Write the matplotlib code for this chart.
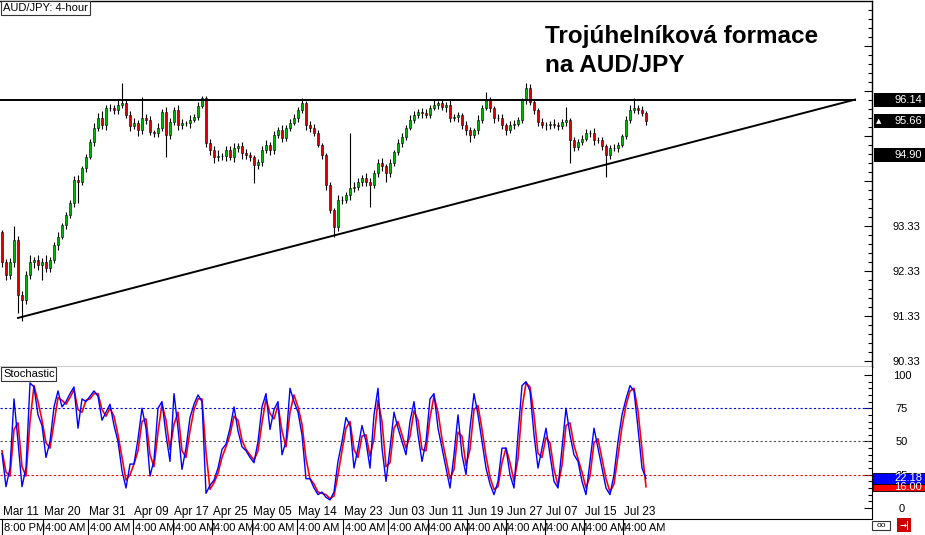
import numpy as np
import matplotlib
matplotlib.use("Agg")
import matplotlib.pyplot as plt
import matplotlib.transforms as mtransforms
from matplotlib.patches import Rectangle
from matplotlib.lines import Line2D

plt.rcParams['font.family'] = ['Liberation Sans', 'DejaVu Sans']

# AUD/JPY 4-hour closes (open = previous close)
first_open = 93.20
closes = [92.53, 92.24, 92.53, 93.02, 91.80, 91.69, 92.24, 92.53, 92.57, 92.46,
          92.53, 92.40, 92.57, 92.91, 93.09, 93.35, 93.57, 93.84, 94.35, 94.31,
          94.62, 94.86, 95.20, 95.51, 95.73, 95.57, 95.95, 95.95, 95.91, 96.02,
          96.06, 95.80, 95.55, 95.62, 95.46, 95.73, 95.69, 95.42, 95.40, 95.51,
          95.86, 95.35, 95.64, 95.91, 95.57, 95.62, 95.62, 95.69, 95.75, 96.00,
          96.17, 95.17, 95.02, 94.86, 94.89, 94.89, 95.02, 94.86, 95.06, 95.11,
          94.95, 94.91, 94.86, 94.69, 94.75, 95.02, 95.13, 95.02, 95.35, 95.46,
          95.29, 95.51, 95.62, 95.73, 95.91, 96.06, 95.57, 95.51, 95.40, 95.13,
          94.91, 94.24, 93.69, 93.31, 93.91, 93.91, 94.02, 94.17, 94.20, 94.31,
          94.40, 94.31, 94.24, 94.51, 94.73, 94.66, 94.51, 94.73, 94.97, 95.17,
          95.31, 95.51, 95.69, 95.80, 95.86, 95.84, 95.80, 95.95, 96.02, 96.06,
          95.97, 96.02, 95.73, 95.75, 95.80, 95.57, 95.46, 95.35, 95.46, 95.69,
          95.95, 96.13, 95.95, 95.73, 95.73, 95.57, 95.46, 95.57, 95.60, 95.69,
          96.13, 96.40, 96.08, 95.91, 95.64, 95.57, 95.57, 95.60, 95.57, 95.55,
          95.64, 95.69, 95.24, 95.09, 95.20, 95.26, 95.40, 95.40, 95.24, 95.24,
          95.11, 94.91, 95.06, 95.06, 95.13, 95.33, 95.69, 95.91, 95.95, 95.91,
          95.84, 95.66]

# wick lengths above / below the body
upper_wick = [0.05, 0.06, 0.10, 0.31, 0.10, 0.08, 0.10, 0.15, 0.08, 0.12,
              0.10, 0.15, 0.08, 0.06, 0.10, 0.05, 0.08, 0.06, 0.10, 0.12,
              0.05, 0.08, 0.06, 0.10, 0.12, 0.15, 0.06, 0.10, 0.08, 0.12,
              0.45, 0.10, 0.08, 0.12, 0.06, 0.47, 0.10, 0.08, 0.05, 0.10,
              0.08, 0.12, 0.10, 0.06, 0.10, 0.08, 0.05, 0.10, 0.06, 0.08,
              0.06, 0.04, 0.10, 0.08, 0.12, 0.06, 0.10, 0.08, 0.12, 0.06,
              0.08, 0.10, 0.06, 0.05, 0.08, 0.10, 0.12, 0.06, 0.10, 0.08,
              0.12, 0.06, 0.08, 0.10, 0.06, 0.11, 0.05, 0.10, 0.08, 0.06,
              0.05, 0.04, 0.06, 0.05, 0.10, 0.08, 0.06, 1.23, 0.10, 0.08,
              0.06, 0.10, 0.08, 0.06, 0.10, 0.12, 0.05, 0.08, 0.06, 0.10,
              0.08, 0.06, 0.10, 0.08, 0.06, 0.10, 0.08, 0.06, 0.10, 0.05,
              0.08, 0.06, 0.10, 0.08, 0.06, 0.05, 0.10, 0.08, 0.06, 0.10,
              0.08, 0.18, 0.06, 0.05, 0.10, 0.08, 0.06, 0.10, 0.08, 0.06,
              0.05, 0.11, 0.08, 0.06, 0.05, 0.10, 0.08, 0.06, 0.10, 0.08,
              0.06, 0.28, 0.05, 0.08, 0.06, 0.10, 0.08, 0.06, 0.10, 0.08,
              0.06, 0.05, 0.08, 0.10, 0.06, 0.05, 0.08, 0.10, 0.22, 0.06,
              0.08, 0.05]
lower_wick = [0.10, 0.11, 0.08, 0.10, 0.40, 0.47, 0.10, 0.08, 0.12, 0.10,
              0.33, 0.10, 0.08, 0.06, 0.10, 0.05, 0.08, 0.06, 0.08, 0.47,
              0.06, 0.08, 0.05, 0.10, 0.06, 0.08, 0.10, 0.06, 0.08, 0.10,
              0.06, 0.08, 0.10, 0.06, 0.12, 0.08, 0.10, 0.06, 0.08, 0.10,
              0.06, 0.49, 0.08, 0.06, 0.10, 0.08, 0.06, 0.10, 0.05, 0.06,
              0.05, 0.08, 0.10, 0.12, 0.08, 0.10, 0.12, 0.06, 0.10, 0.08,
              0.12, 0.10, 0.08, 0.40, 0.10, 0.08, 0.06, 0.10, 0.08, 0.06,
              0.10, 0.08, 0.06, 0.05, 0.08, 0.06, 0.10, 0.08, 0.06, 0.05,
              0.08, 0.10, 0.08, 0.22, 0.10, 0.08, 0.06, 0.10, 0.08, 0.06,
              0.10, 0.08, 0.49, 0.06, 0.08, 0.10, 0.20, 0.08, 0.06, 0.05,
              0.08, 0.06, 0.05, 0.08, 0.06, 0.10, 0.08, 0.06, 0.05, 0.08,
              0.06, 0.10, 0.08, 0.06, 0.10, 0.08, 0.10, 0.15, 0.06, 0.08,
              0.06, 0.05, 0.08, 0.10, 0.06, 0.08, 0.10, 0.06, 0.08, 0.05,
              0.06, 0.08, 0.06, 0.10, 0.08, 0.06, 0.10, 0.08, 0.06, 0.08,
              0.06, 0.08, 0.51, 0.10, 0.08, 0.06, 0.05, 0.08, 0.10, 0.06,
              0.08, 0.49, 0.08, 0.06, 0.08, 0.05, 0.06, 0.08, 0.06, 0.08,
              0.06, 0.08]

# stochastic %K (blue) and %D (red)
stoch_k = [41, 16, 30, 82, 50, 16, 30, 94, 91, 70,
           62, 38, 50, 76, 88, 76, 80, 86, 91, 60,
           82, 80, 84, 88, 84, 66, 72, 78, 62, 50,
           28, 15, 33, 33, 52, 75, 60, 24, 36, 75,
           80, 55, 35, 86, 60, 29, 45, 68, 78, 85,
           80, 11, 17, 21, 30, 44, 48, 60, 76, 58,
           46, 43, 38, 34, 50, 76, 86, 59, 74, 80,
           40, 50, 90, 80, 72, 55, 22, 22, 15, 10,
           12, 8, 6, 12, 35, 50, 68, 62, 30, 45,
           62, 50, 30, 70, 90, 45, 20, 45, 72, 60,
           50, 40, 65, 80, 55, 35, 50, 82, 86, 60,
           45, 30, 15, 40, 70, 40, 25, 60, 86, 70,
           50, 30, 18, 10, 20, 45, 45, 25, 15, 55,
           92, 95, 88, 55, 30, 45, 60, 40, 20, 15,
           45, 75, 55, 40, 35, 20, 10, 35, 60, 45,
           30, 15, 10, 25, 50, 70, 82, 92, 88, 60,
           30, 22.18]
stoch_d = [43, 27, 24, 59, 64, 31, 24, 65, 92, 80,
           66, 49, 45, 64, 83, 81, 78, 83, 89, 74,
           72, 81, 82, 86, 86, 74, 69, 75, 69, 55,
           38, 21, 25, 33, 43, 65, 67, 40, 31, 57,
           78, 66, 44, 63, 72, 43, 38, 58, 74, 82,
           82, 42, 14, 19, 26, 38, 46, 55, 69, 66,
           51, 44, 40, 36, 43, 64, 82, 71, 67, 77,
           58, 46, 72, 85, 76, 63, 37, 22, 18, 12,
           11, 10, 7, 9, 25, 43, 60, 65, 44, 38,
           54, 55, 39, 52, 81, 65, 31, 34, 60, 65,
           55, 45, 54, 73, 66, 44, 43, 68, 84, 72,
           52, 37, 22, 29, 57, 54, 32, 44, 74, 77,
           59, 39, 23, 14, 16, 34, 45, 34, 20, 37,
           75, 94, 91, 70, 41, 38, 53, 49, 29, 17,
           32, 62, 64, 47, 37, 27, 15, 24, 49, 52,
           37, 22, 12, 18, 39, 61, 77, 88, 90, 73,
           44, 16.00]

# triangle lines
resistance = 96.14
support_start_bar, support_start = 4.0, 91.29
apex_bar = 213.25
trend_mark = 94.90

# time axis
day_start_bars = [0, 10.25, 21.5, 32.75, 42.75, 52.5, 62.5, 73.75, 85.25,
                  96.5, 106.5, 116.25, 126, 135.75, 145.5, 155.25]
date_labels = ["Mar 11", "Mar 20", "Mar 31", "Apr 09", "Apr 17", "Apr 25",
               "May 05", "May 14", "May 23", "Jun 03", "Jun 11", "Jun 19",
               "Jun 27", "Jul 07", "Jul 15", "Jul 23"]
hour_labels = ["8:00 PM"] + ["4:00 AM"] * 15

W, H = 925, 535
fig = plt.figure(figsize=(W / 100, H / 100), dpi=100)
fig.patch.set_facecolor("white")


def fx(px):
    return px / W


def fy(py):
    return 1 - py / H


ax = fig.add_axes([0, fy(367), fx(872), (367 - 1) / H])
ax_st = fig.add_axes([0, fy(519), fx(872), (519 - 367) / H])

# candles
o = np.array([first_open] + closes[:-1])
c = np.array(closes)
xs = np.arange(len(c))
hi = np.maximum(o, c) + np.array(upper_wick)
lo = np.minimum(o, c) - np.array(lower_wick)
ax.vlines(xs, lo, hi, color="black", lw=0.8, zorder=2)
up = c >= o
ax.bar(xs[up], (c - o)[up], bottom=o[up], width=0.7, color="#00b800",
       edgecolor="black", linewidth=0.4, zorder=3)
ax.bar(xs[~up], (o - c)[~up], bottom=c[~up], width=0.7, color="#dd0000",
       edgecolor="black", linewidth=0.4, zorder=3)

# triangle
ax.plot([-0.5, apex_bar], [resistance, resistance], color="black", lw=1.4, zorder=4)
ax.plot([support_start_bar, apex_bar], [support_start, resistance], color="black", lw=1.4, zorder=4)

ax.set_xlim(-0.5, 217.5)
ax.set_ylim(90.20, 98.33)
ax.set_xticks([])
ax.yaxis.tick_right()
major = [90.33, 91.33, 92.33, 93.33, 94.33, 95.33, 96.33, 97.33]
ax.set_yticks(major)
ax.set_yticklabels([f"{v:.2f}" if v < 94 else "" for v in major])
ax.set_yticks(np.arange(90.33, 98.3, 0.2), minor=True)
ax.tick_params(axis="y", which="major", direction="in", length=6, width=0.8,
               pad=15, labelsize=8)
ax.tick_params(axis="y", which="minor", direction="in", length=3, width=0.8)
ax.spines["left"].set_visible(False)
for s in ["top", "right", "bottom"]:
    ax.spines[s].set_linewidth(1.0)

# price boxes on the right
bt = mtransforms.blended_transform_factory(fig.transFigure, ax.transData)
for val, tri in [(resistance, False), (closes[-1], True), (trend_mark, False)]:
    ax.add_patch(Rectangle((fx(874), val - 0.155), fx(51), 0.31, transform=bt,
                           facecolor="black", edgecolor="none", clip_on=False, zorder=6))
    ax.text(fx(922), val, f"{val:.2f}", transform=bt, ha="right", va="center",
            color="white", fontsize=8, clip_on=False, zorder=7)
    if tri:
        ax.text(fx(876), val, "\u25b2", transform=bt, ha="left", va="center",
                color="white", fontsize=5, clip_on=False, zorder=7,
                family=["DejaVu Sans"])

# stochastic
ax_st.plot(xs, stoch_d, color="#ff0000", lw=1.2, zorder=3)
ax_st.plot(xs, stoch_k, color="#0000ff", lw=1.0, zorder=4)
ax_st.axhline(75, color="#0000ff", lw=0.8, ls=(0, (2, 2)))
ax_st.axhline(50, color="#555555", lw=0.8, ls=(0, (2, 2)))
ax_st.axhline(25, color="#ff0000", lw=0.8, ls=(0, (2, 2)))
ax_st.set_xlim(-0.5, 217.5)
ax_st.set_ylim(-8.3, 106)
ax_st.set_xticks([])
ax_st.yaxis.tick_right()
ax_st.set_yticks([0, 25, 50, 75, 100])
ax_st.set_yticklabels(["0", "25", "50", "75", "100"])
ax_st.set_yticks(np.arange(0, 101, 5), minor=True)
ax_st.tick_params(axis="y", which="major", direction="in", length=6, width=0.8,
                  pad=21.5, labelsize=8)
ax_st.tick_params(axis="y", which="minor", direction="in", length=3, width=0.8)
for lab in ax_st.get_yticklabels():
    lab.set_ha("center")
ax_st.spines["left"].set_visible(False)
ax_st.spines["top"].set_visible(False)

bs = mtransforms.blended_transform_factory(fig.transFigure, ax_st.transData)
for val, col, h in [(stoch_d[-1], "#ff0000", 7.0), (stoch_k[-1], "#0000ff", 8.5)]:
    ax_st.add_patch(Rectangle((fx(873), val - h / 2), fx(52), h, transform=bs,
                              facecolor=col, edgecolor="black", lw=0.6,
                              clip_on=False, zorder=6))
    ax_st.text(fx(922), val, f"{val:.2f}", transform=bs, ha="right", va="center",
               color="white", fontsize=8, clip_on=False, zorder=7)

# time labels
tt = mtransforms.blended_transform_factory(ax_st.transData, fig.transFigure)
for b, dl, hl in zip(day_start_bars, date_labels, hour_labels):
    ax_st.text(b + 0.25, fy(512), dl, transform=tt, ha="left", va="center",
               fontsize=8.5, clip_on=False)
    ax_st.text(b + 0.5, fy(528), hl, transform=tt, ha="left", va="center",
               fontsize=8, clip_on=False)
    fig.add_artist(Line2D([b, b], [fy(519), fy(535)], transform=tt,
                          color="black", lw=0.8))

# panel captions
fig.text(fx(3), fy(8), "AUD/JPY: 4-hour", fontsize=8, ha="left", va="center",
         bbox=dict(boxstyle="square,pad=0.15", fc="white", ec="#333333", lw=0.8))
fig.text(fx(3), fy(374), "Stochastic", fontsize=8, ha="left", va="center",
         bbox=dict(boxstyle="square,pad=0.15", fc="white", ec="#333333", lw=0.8))

fig.text(fx(545), fy(36), "Trojúhelníková formace", fontsize=17.5,
         fontweight="bold", ha="left", va="center")
fig.text(fx(545), fy(65), "na AUD/JPY", fontsize=17.5,
         fontweight="bold", ha="left", va="center")

# small icons bottom right
fig.add_artist(Rectangle((fx(872), fy(530)), fx(18), 9 / H, transform=fig.transFigure,
                         facecolor="white", edgecolor="#333333", lw=0.8))
fig.text(fx(881), fy(525.5), "oo", fontsize=6, ha="center", va="center")
fig.add_artist(Rectangle((fx(897), fy(532)), fx(14), 14 / H, transform=fig.transFigure,
                         facecolor="#cc0000", edgecolor="none"))
fig.text(fx(904), fy(525), "\u2192|", fontsize=6, ha="center", va="center",
         color="white", fontweight="bold", family=["DejaVu Sans"])

fig.savefig("out.png", dpi=100)
